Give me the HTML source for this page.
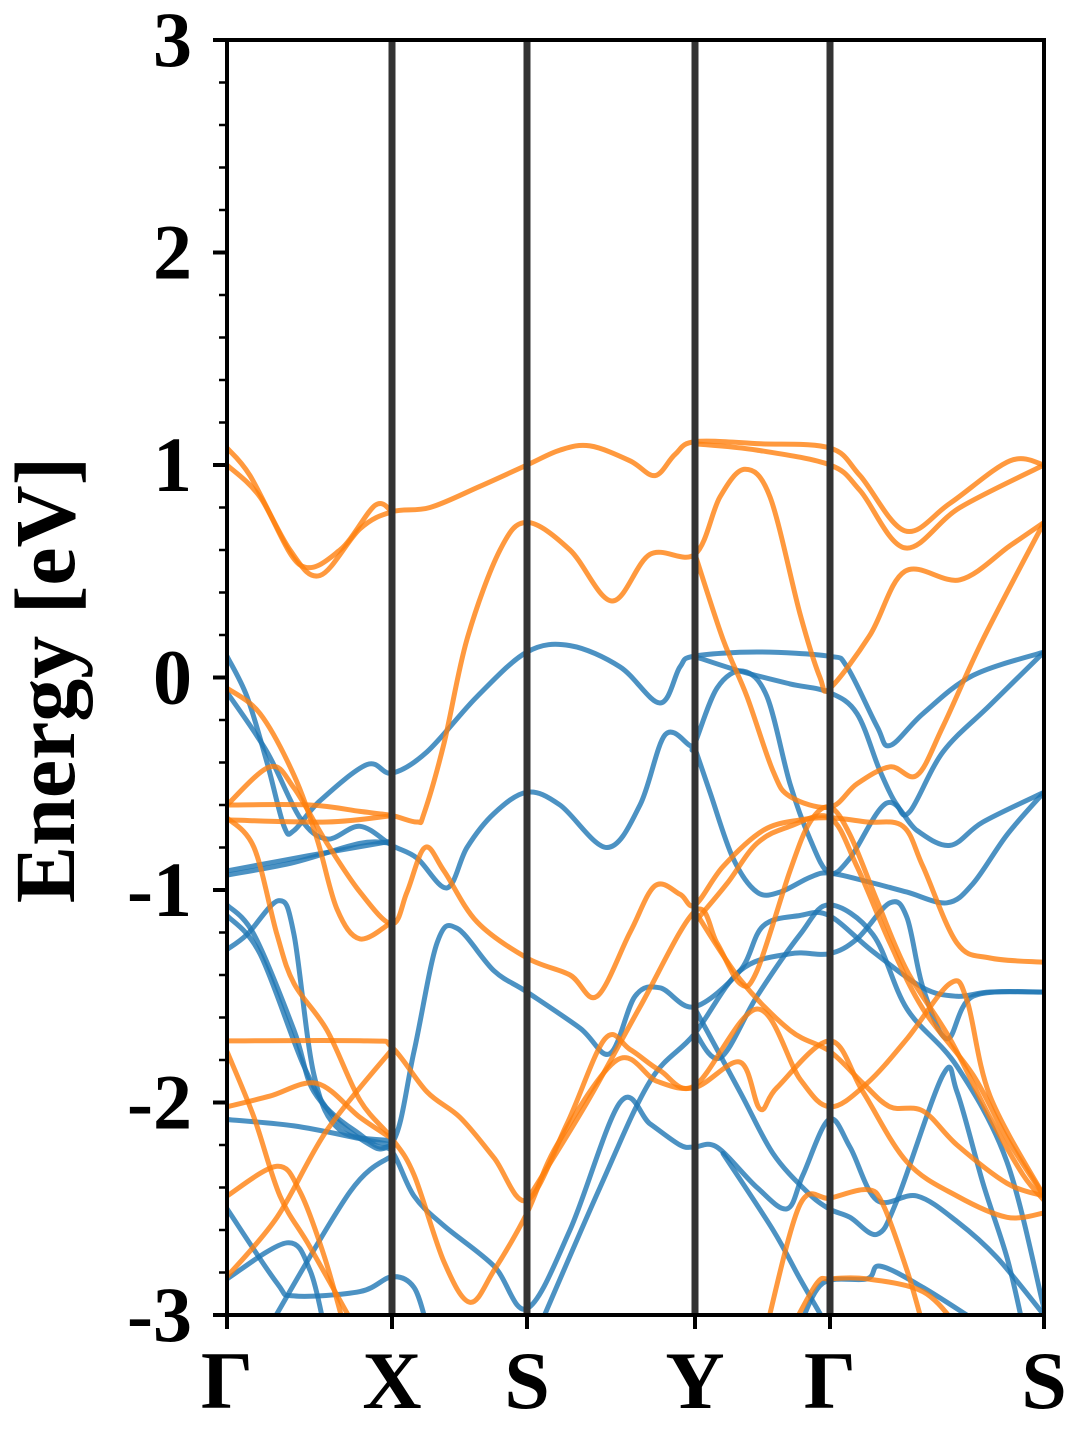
<!DOCTYPE html>
<html><head><meta charset="utf-8"><style>
html,body{margin:0;padding:0;background:#fff;}
svg{display:block;}
text{font-family:"Liberation Serif","Times New Roman",serif;font-weight:700;fill:#000;}
</style></head><body>
<svg id="chart" width="1080" height="1440" viewBox="0 0 1080 1440" xmlns="http://www.w3.org/2000/svg">
<defs><clipPath id="clip"><rect x="227" y="40" width="817" height="1275"/></clipPath></defs>
<g id="bands" clip-path="url(#clip)"></g>
<g id="klines"></g>
<g id="axes"></g>
<text x="74" y="680" font-family="Liberation Serif, serif" font-weight="700" font-size="86" text-anchor="middle" transform="rotate(-90 74 680)">Energy [eV]</text>
</svg>
<script>
const kTicks = [0, 1.65, 3.0, 4.68, 6.03, 8.17];
const kLabels = ["Γ", "X", "S", "Y", "Γ", "S"];
const yTicks = [3, 2, 1, 0, -1, -2, -3];
const yTickLabels = ["3", "2", "1", "0", "-1", "-2", "-3"];
const yMinorStep = 0.2;

const blueBands = [
[0,0.10,.2,-.09,.4,-.40,.57,-.70,.67,-.72,.93,-.58,1.4,-.41,1.65,-.45,2.0,-.35,2.5,-.09,3.0,.12,3.43,.15,3.93,.05,4.33,-.12,4.53,.05,4.67,.10,5.3,.12,6.02,.10,6.2,.05,6.5,-.23,6.63,-.32,6.96,-.17,7.46,.01,8.17,.12],
[0,-.07,.4,-.35,.73,-.66,1.0,-.76,1.33,-.70,1.65,-.79,1.9,-.85,2.2,-.99,2.4,-.80,2.67,-.64,3.0,-.54,3.33,-.6,3.8,-.80,4.13,-.6,4.38,-.27,4.63,-.32,4.67,-.32,4.9,-.05,5.16,.03,5.4,-.09,5.63,-.5,5.83,-.76,6.02,-.92,6.23,-.85,6.6,-.59,6.9,-.72,7.23,-.79,7.56,-.68,8.17,-.54],
[0,-.93,.67,-.87,1.33,-.78,1.65,-.78],
[0,-.91,.8,-.84,1.65,-.77],
[0,-1.07,.27,-1.21,.67,-1.66,.87,-1.95,1.27,-2.13,1.65,-2.19,1.87,-1.76,2.1,-1.25,2.3,-1.18,2.67,-1.38,3.0,-1.48,3.53,-1.65,3.83,-1.77,4.08,-1.5,4.33,-1.46,4.67,-1.55,5.13,-1.38,5.36,-1.17,5.73,-1.12,6.02,-1.12,6.46,-1.29,6.96,-1.46,7.3,-1.5,7.63,-1.48,8.17,-1.48],
[0,-1.12,.33,-1.30,.77,-1.83,1.07,-2.07,1.47,-2.21,1.65,-2.23,1.87,-2.44,2.17,-2.58,2.67,-2.77,3.0,-2.97,3.43,-2.6,3.93,-2.0,4.23,-2.1,4.53,-2.2,4.67,-2.21,4.9,-2.21,5.3,-2.40,5.6,-2.50,5.76,-2.34,6.02,-2.08,6.23,-2.21,6.5,-2.46,6.9,-2.44,7.3,-2.56,7.7,-2.73,8.17,-3.0],
[0,-1.28,.2,-1.21,.52,-1.05,.67,-1.21,.87,-1.87,1.13,-2.13,1.65,-2.18],
[0,-2.08,.67,-2.11,1.33,-2.17,1.65,-2.20],
[0,-2.50,.5,-2.85,.67,-2.91,1.33,-2.89,1.65,-2.82,1.87,-2.87,2.0,-3.05],
[0,-2.83,.6,-2.66,.83,-2.79,.97,-3.05],
[.43,-3.05,1.23,-2.42,1.65,-2.25],
[3.13,-3.05,3.73,-2.4,4.23,-1.9,4.67,-1.68,5.13,-1.38,5.63,-1.30,6.02,-1.30,6.3,-1.23,6.63,-1.06,6.8,-1.13,6.96,-1.46,7.2,-1.70,7.46,-1.50,8.17,-1.48],
[4.67,-1.66,4.93,-1.79,5.3,-1.50,5.73,-1.21,6.02,-1.07,6.46,-1.21,6.8,-1.56,7.3,-1.83,7.8,-2.28,8.17,-2.97],
[4.67,-1.55,5.13,-1.95,5.46,-2.24,5.8,-2.42,6.02,-2.50,6.23,-2.54,6.5,-2.62,6.7,-2.46,7.16,-1.87,7.3,-1.95,7.56,-2.38,7.8,-2.73,7.96,-3.05],
[4.96,-2.24,5.46,-2.60,5.73,-2.83,6.0,-3.05],
[5.73,-3.05,5.96,-2.85,6.4,-2.83,6.53,-2.77,6.96,-2.87,7.56,-3.05],
[4.67,.10,5.13,.03,5.63,-.03,6.02,-.07,6.3,-.17,6.53,-.44,6.7,-.60,6.83,-.63,7.16,-.35,7.63,-.13,8.17,.12],
[4.67,-.32,4.83,-.54,5.06,-.85,5.3,-1.01,5.53,-1.01,5.83,-.94,6.02,-.92,6.4,-.96,6.8,-1.01,7.2,-1.06,7.46,-.97,7.8,-.74,8.17,-.54]
];

const orangeBands = [
[0,1.08,.23,.95,.63,.6,.93,.48,1.33,.7,1.65,.78,2.03,.8,2.53,.9,3.0,1.0,3.33,1.07,3.63,1.09,4.03,1.02,4.28,.95,4.48,1.05,4.68,1.11,5.33,1.1,6.03,1.08,6.33,.95,6.78,.69,7.23,.82,7.83,1.02,8.17,1.0],
[0,1.0,.33,.85,.73,.53,1.13,.6,1.48,.81,1.65,.78],
[4.68,1.10,5.3,1.07,6.03,1.0,6.33,.88,6.78,.61,7.33,.8,8.17,1.0],
[0,-.60,.83,-.60,1.33,-.63,1.65,-.65,1.9,-.68,1.97,-.64,2.17,-.31,2.4,.18,2.73,.6,3.0,.73,3.43,.6,3.85,.36,4.23,.58,4.68,.58,4.93,.85,5.18,.98,5.43,.85,5.73,.3,5.93,0.0,6.03,-.05,6.43,.2,6.78,.5,7.33,.46,7.83,.62,8.17,.73],
[0,-.67,1.0,-.68,1.65,-.65],
[0,-.60,.43,-.42,.67,-.52,1.0,-.78,1.33,-1.01,1.65,-1.16,1.8,-1.01,1.98,-.80,2.17,-.91,2.5,-1.15,3.0,-1.32,3.43,-1.4,3.7,-1.5,4.03,-1.2,4.28,-.98,4.53,-1.02,4.68,-1.07,4.96,-.89,5.36,-.72,5.73,-.67,6.03,-.66,6.4,-.68,6.76,-.70,6.96,-.89,7.3,-1.25,7.63,-1.32,8.17,-1.34],
[0,-.05,.33,-.17,.67,-.46,.9,-.76,1.1,-1.09,1.33,-1.23,1.65,-1.15],
[4.68,.58,4.96,.18,5.2,-.09,5.46,-.44,5.63,-.56,6.03,-.61,6.3,-.50,6.63,-.42,6.9,-.46,7.16,-.23,7.56,.18,8.17,.73],
[0,-.66,.27,-.80,.5,-1.21,.67,-1.44,1.0,-1.66,1.33,-1.99,1.65,-2.17,1.87,-2.34,2.17,-2.75,2.43,-2.94,2.67,-2.79,3.0,-2.52,3.3,-2.2,3.9,-1.8,4.3,-1.9,4.68,-1.93,5.13,-1.81,5.33,-2.03,5.5,-1.93,6.03,-1.71,6.36,-1.95,6.8,-2.28,7.3,-2.44,7.8,-2.54,8.17,-2.52],
[0,-1.71,1.4,-1.71,1.65,-1.74,2.0,-1.95,2.33,-2.07,2.67,-2.26,3.0,-2.46,3.4,-2.1,3.78,-1.7,4.03,-1.75,4.33,-1.85,4.68,-1.92,5.3,-1.56,5.73,-1.89,6.03,-2.02,6.4,-1.91,6.8,-1.70,7.23,-1.44,7.4,-1.52,7.63,-1.97,8.17,-2.44],
[0,-2.02,.43,-1.97,.9,-1.91,1.33,-2.07,1.65,-2.17],
[0,-1.76,.27,-2.07,.53,-2.44,.83,-2.68,1.27,-3.05],
[0,-2.44,.5,-2.30,.73,-2.42,.97,-2.72,1.17,-3.05],
[0,-2.82,.5,-2.54,1.0,-2.13,1.65,-1.75],
[3.0,-2.46,3.6,-2.0,4.13,-1.55,4.68,-1.1,4.9,-1.25,5.13,-1.44,5.3,-1.38,5.63,-.91,5.83,-.68,6.03,-.61,6.23,-.74,6.5,-1.05,6.8,-1.38,7.23,-1.70,7.63,-2.07,7.96,-2.34,8.17,-2.46],
[4.68,-1.15,5.0,-.97,5.3,-.78,5.63,-.70,6.03,-.66,6.3,-.89,6.63,-1.25,6.96,-1.56,7.46,-1.87,7.8,-2.17,8.17,-2.44],
[4.68,-1.1,5.13,-1.42,5.63,-1.66,6.03,-1.76,6.36,-1.91,6.63,-2.02,6.96,-2.04,7.3,-2.2,7.8,-2.38,8.17,-2.44],
[5.4,-3.05,5.73,-2.48,6.03,-2.45,6.4,-2.41,6.56,-2.48,6.8,-2.79,6.96,-3.05],
[5.66,-3.05,5.9,-2.85,6.03,-2.83,6.4,-2.83,6.96,-2.89,7.3,-3.05]
];

const X0 = 227, X1 = 1044, Y0 = 40, Y1 = 1315;
const kMax = kTicks[kTicks.length - 1];
const xScale = k => X0 + (k / kMax) * (X1 - X0);
const yScale = e => Y1 - (e - (-3)) / 6 * (Y1 - Y0);
const NS = "http://www.w3.org/2000/svg";
function mk(tag, attrs, parent) {
  const el = document.createElementNS(NS, tag);
  for (const a in attrs) el.setAttribute(a, attrs[a]);
  parent.appendChild(el);
  return el;
}
function smoothPath(flat) {
  const p = [];
  for (let i = 0; i < flat.length; i += 2) p.push([xScale(flat[i]), yScale(flat[i + 1])]);
  let d = "M" + p[0][0].toFixed(1) + "," + p[0][1].toFixed(1);
  for (let i = 0; i < p.length - 1; i++) {
    const p0 = p[i - 1] || p[i], p1 = p[i], p2 = p[i + 1], p3 = p[i + 2] || p2;
    const c1 = [p1[0] + (p2[0] - p0[0]) / 6, p1[1] + (p2[1] - p0[1]) / 6];
    const c2 = [p2[0] - (p3[0] - p1[0]) / 6, p2[1] - (p3[1] - p1[1]) / 6];
    d += " C" + c1[0].toFixed(1) + "," + c1[1].toFixed(1) + " " + c2[0].toFixed(1) + "," + c2[1].toFixed(1) + " " + p2[0].toFixed(1) + "," + p2[1].toFixed(1);
  }
  return d;
}
const bandsG = document.getElementById("bands");
blueBands.forEach((b) => {
  const el = mk("path", {d: smoothPath(b), fill: "none", stroke: "#1f77b4", "stroke-width": 5, "stroke-opacity": 0.8, "stroke-linecap": "round"}, bandsG);
  
  
});
orangeBands.forEach((b) => {
  const el = mk("path", {d: smoothPath(b), fill: "none", stroke: "#ff7f0e", "stroke-width": 5, "stroke-opacity": 0.8, "stroke-linecap": "round"}, bandsG);
  
  
});
const kl = document.getElementById("klines");
kTicks.forEach((k, i) => {
  if (i === 0 || i === kTicks.length - 1) return;
  const el = mk("line", {x1: xScale(k), x2: xScale(k), y1: Y0, y2: Y1, stroke: "#333", "stroke-width": 7}, kl);
  
  
});
const ax = document.getElementById("axes");
const frame = mk("rect", {x: X0, y: Y0, width: X1 - X0, height: Y1 - Y0, fill: "none", stroke: "#000", "stroke-width": 4}, ax);


for (let e = -3; e <= 3.0001; e += yMinorStep) {
  const t = mk("line", {x1: X0 - 8, x2: X0, y1: yScale(e), y2: yScale(e), stroke: "#000", "stroke-width": 2.5}, ax);
  
  
}
yTicks.forEach((v, i) => {
  const t = mk("line", {x1: X0 - 14, x2: X0, y1: yScale(v), y2: yScale(v), stroke: "#000", "stroke-width": 4}, ax);
  
  
  const tx = mk("text", {x: 192, y: yScale(v) + 26, "font-size": 78, "font-family": "Liberation Serif, serif", "font-weight": "700", "text-anchor": "end"}, ax);
  tx.textContent = yTickLabels[i];
  
  
});
kTicks.forEach((k, i) => {
  const t = mk("line", {x1: xScale(k), x2: xScale(k), y1: Y1, y2: Y1 + 14, stroke: "#000", "stroke-width": 4}, ax);
  
  
  const tx = mk("text", {x: xScale(k), y: 1408, "font-size": 82, "font-family": "Liberation Serif, serif", "font-weight": "700", "text-anchor": "middle"}, ax);
  tx.textContent = kLabels[i];
  
  
});
</script>
</body></html>
